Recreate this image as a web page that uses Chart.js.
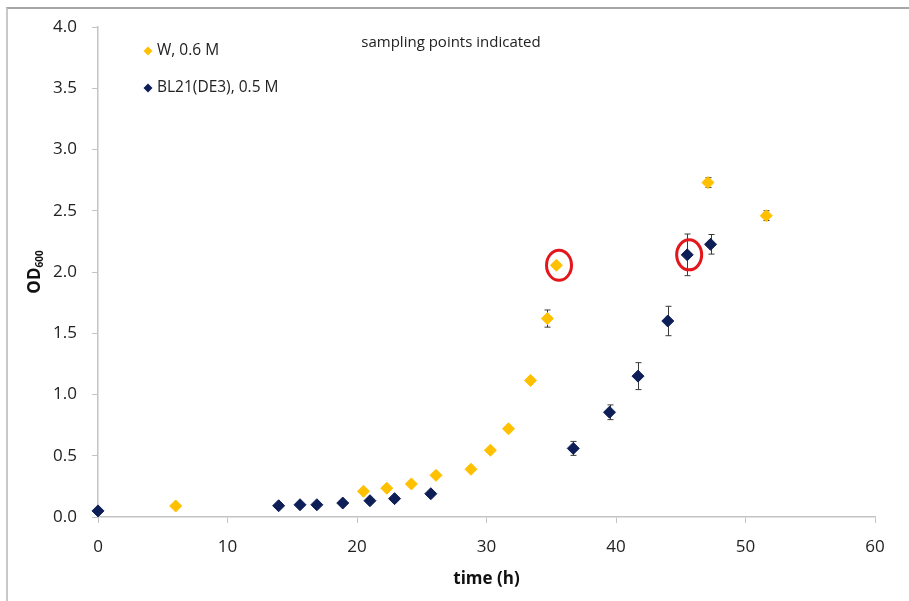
<!DOCTYPE html>
<html>
<head>
<meta charset="utf-8">
<script src="https://cdn.jsdelivr.net/npm/chart.js@4"></script>
<style>
  html, body { margin: 0; padding: 0; background: #fff; }
  #wrap { position: relative; width: 909px; height: 601px; }
  #frame { position: absolute; left: 6px; top: 7px; right: 0; bottom: 0;
           border-top: 2px solid #a6a6a6; border-left: 2px solid #c8c8c8; pointer-events: none; }
</style>
</head>
<body>
<div id="wrap">
  <canvas id="growthChart" width="909" height="601"></canvas>
  <div id="frame"></div>
</div>
<script>
// W strain, 0.6 M
const wTime = [6.0, 20.5, 22.3, 24.2, 26.1, 28.8, 30.3, 31.7, 33.4, 34.7, 35.4, 47.1, 51.6];
const wOD   = [0.09, 0.21, 0.235, 0.27, 0.34, 0.39, 0.545, 0.72, 1.115, 1.62, 2.055, 2.73, 2.46];
const wErr  = [0, 0, 0, 0, 0, 0, 0, 0, 0, 0.07, 0, 0.04, 0.04];

// BL21(DE3), 0.5 M
const bTime = [0, 13.95, 15.6, 16.9, 18.9, 21.0, 22.9, 25.7, 36.7, 39.5, 41.7, 44.0, 45.5, 47.3];
const bOD   = [0.05, 0.092, 0.10, 0.10, 0.114, 0.133, 0.15, 0.19, 0.56, 0.855, 1.15, 1.60, 2.14, 2.226];
const bErr  = [0, 0, 0, 0, 0, 0, 0, 0, 0.057, 0.06, 0.11, 0.12, 0.17, 0.08];

// sampling points (circled)
const sampleTime = [35.6, 45.65];
const sampleOD   = [2.055, 2.14];

const xTicks = [0, 10, 20, 30, 40, 50, 60];
const yTicks = [0, 0.5, 1.0, 1.5, 2.0, 2.5, 3.0, 3.5, 4.0];

const seriesNames = ["W, 0.6 M", "BL21(DE3), 0.5 M"];
const gold = "#FFC000";
const navy = "#0E1F58";
const FONT = "'Open Sans', 'Liberation Sans', sans-serif";

function toPoints(xs, ys) {
    return xs.map((x, i) => ({ x: x, y: ys[i] }));
}

const errorBarPlugin = {
    id: "errorBars",
    beforeDatasetsDraw(chart) {
        const ctx = chart.ctx;
        const xs = chart.scales.x, ys = chart.scales.y;
        const sets = [[wTime, wOD, wErr], [bTime, bOD, bErr]];
        ctx.save();
        ctx.strokeStyle = "#3a3a3a";
        ctx.lineWidth = 1;
        sets.forEach(([t, v, e]) => {
            t.forEach((tt, i) => {
                if (!e[i]) return;
                const px = Math.round(xs.getPixelForValue(tt)) + 0.5;
                const top = ys.getPixelForValue(v[i] + e[i]);
                const bot = ys.getPixelForValue(v[i] - e[i]);
                ctx.beginPath();
                ctx.moveTo(px, top); ctx.lineTo(px, bot);
                ctx.moveTo(px - 3, top); ctx.lineTo(px + 3, top);
                ctx.moveTo(px - 3, bot); ctx.lineTo(px + 3, bot);
                ctx.stroke();
            });
        });
        ctx.restore();
    }
};

const annotatePlugin = {
    id: "annotate",
    afterDraw(chart) {
        const ctx = chart.ctx;
        const xs = chart.scales.x, ys = chart.scales.y;
        ctx.save();

        // red circles around sampling points
        ctx.strokeStyle = "#E3161B";
        ctx.lineWidth = 3;
        sampleTime.forEach((t, i) => {
            ctx.beginPath();
            ctx.ellipse(xs.getPixelForValue(t), ys.getPixelForValue(sampleOD[i]), 12.5, 15, 0, 0, Math.PI * 2);
            ctx.stroke();
        });

        // note
        ctx.fillStyle = "#222";
        ctx.font = "15px " + FONT;
        ctx.textAlign = "center";
        ctx.textBaseline = "middle";
        ctx.fillText("sampling points indicated", 451, 43);

        // legend
        const colors = [gold, navy];
        ctx.textAlign = "left";
        ctx.font = "15.5px " + FONT;
        seriesNames.forEach((name, i) => {
            const y = 51 + i * 37;
            ctx.fillStyle = colors[i];
            ctx.beginPath();
            ctx.moveTo(148, y - 4.5); ctx.lineTo(152.5, y); ctx.lineTo(148, y + 4.5); ctx.lineTo(143.5, y);
            ctx.closePath();
            ctx.fill();
            ctx.fillStyle = "#222";
            ctx.fillText(name, 157, y);
        });

        // y axis title OD600
        ctx.translate(34, 272);
        ctx.rotate(-Math.PI / 2);
        ctx.fillStyle = "#111";
        ctx.font = "bold 17px " + FONT;
        ctx.textAlign = "left";
        ctx.textBaseline = "alphabetic";
        const w1 = ctx.measureText("OD").width;
        ctx.font = "bold 10px " + FONT;
        const w2 = ctx.measureText("600").width;
        const start = -(w1 + w2) / 2;
        ctx.font = "bold 17px " + FONT;
        ctx.fillText("OD", start, 6);
        ctx.font = "bold 10px " + FONT;
        ctx.fillText("600", start + w1, 9);
        ctx.restore();
    }
};

document.addEventListener("DOMContentLoaded", function () {
    const ctx = document.getElementById("growthChart").getContext("2d");

    new Chart(ctx, {
        type: "scatter",
        data: {
            datasets: [{
                label: seriesNames[0],
                data: toPoints(wTime, wOD),
                pointStyle: "rectRot",
                pointRadius: 6,
                backgroundColor: gold,
                borderColor: gold,
                borderWidth: 1,
                clip: false
            }, {
                label: seriesNames[1],
                data: toPoints(bTime, bOD),
                pointStyle: "rectRot",
                pointRadius: 6,
                backgroundColor: navy,
                borderColor: navy,
                borderWidth: 1,
                clip: false
            }]
        },
        options: {
            responsive: false,
            animation: false,
            layout: { padding: { left: 0, right: 34, top: 27, bottom: 0 } },
            plugins: {
                legend: { display: false },
                tooltip: { enabled: false }
            },
            scales: {
                x: {
                    type: "linear",
                    min: 0,
                    max: 60,
                    afterBuildTicks: axis => { axis.ticks = xTicks.map(v => ({ value: v })); },
                    afterFit: axis => { axis.height = 84; },
                    border: { color: "#c4c4c4", width: 1.5 },
                    grid: { drawOnChartArea: false, color: "#c4c4c4", tickLength: 6 },
                    ticks: { color: "#222", padding: 14, font: { family: FONT, size: 17 } },
                    title: {
                        display: true,
                        text: "time (h)",
                        color: "#111",
                        padding: { top: 2, bottom: 12 },
                        font: { family: FONT, size: 17, weight: "bold" }
                    }
                },
                y: {
                    min: 0,
                    max: 4,
                    afterBuildTicks: axis => { axis.ticks = yTicks.map(v => ({ value: v })); },
                    afterFit: axis => { axis.width = 98; },
                    border: { color: "#c4c4c4", width: 1.5 },
                    grid: { drawOnChartArea: false, color: "#c4c4c4", tickLength: 6 },
                    ticks: {
                        color: "#222",
                        padding: 15,
                        font: { family: FONT, size: 17 },
                        callback: v => v.toFixed(1)
                    }
                }
            }
        },
        plugins: [errorBarPlugin, annotatePlugin]
    });
});
</script>
</body>
</html>
